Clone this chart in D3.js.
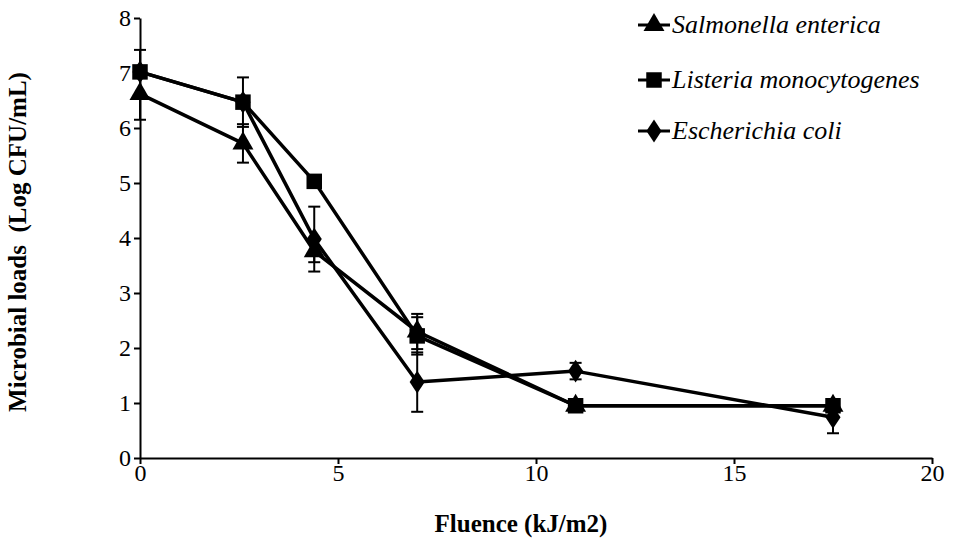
<!DOCTYPE html>
<html>
<head>
<meta charset="utf-8">
<script src="https://cdn.jsdelivr.net/npm/d3@7"></script>
<style>
  body { margin: 0; background: #fff; }
  svg text { font-family: "Liberation Serif", "Times New Roman", serif; fill: #000; }
  .axis path, .axis line { stroke: #000; stroke-width: 2px; }
  .axis text { font-size: 24px; }
</style>
</head>
<body>
<div id="graphic"></div>
<script>
// fluence values (kJ/m2)
var fluence = [0, 2.6, 4.4, 7, 11, 17.5];

var seriesNames = ["Salmonella enterica", "Listeria monocytogenes", "Escherichia coli"];
var seriesShapes = ["triangle", "square", "diamond"];

// log CFU/mL
var salmonella = [6.62, 5.72, 3.76, 2.30, 0.95, 0.95];
var listeria = [7.02, 6.47, 5.03, 2.22, 0.95, 0.95];
var ecoli = [7.02, 6.47, 3.98, 1.38, 1.58, 0.74];

// error bar half-widths
var salmonellaErr = [0.47, 0.35, 0.20, 0.32, 0, 0];
var listeriaErr = [0.40, 0.45, 0, 0.34, 0, 0];
var ecoliErr = [0, 0, 0.59, 0.54, 0.15, 0.29];

var xTicks = [0, 5, 10, 15, 20];
var yTicks = [0, 1, 2, 3, 4, 5, 6, 7, 8];

var width = 953, height = 544;
var margin = { top: 18, right: 21, bottom: 86, left: 140 };

var svg = d3.select('#graphic').append('svg')
  .attr('width', width)
  .attr('height', height);

var x = d3.scaleLinear().domain([0, 20]).range([margin.left, width - margin.right]);
var y = d3.scaleLinear().domain([0, 8]).range([height - margin.bottom, margin.top]);

var xAxis = d3.axisBottom(x).tickValues(xTicks).tickSize(6).tickPadding(0).tickSizeOuter(0);
var yAxis = d3.axisLeft(y).tickValues(yTicks).tickSize(6).tickPadding(3).tickSizeOuter(0);

svg.append('g').attr('class', 'x axis')
  .attr('transform', 'translate(0,' + y(0) + ')')
  .call(xAxis);

svg.append('g').attr('class', 'y axis')
  .attr('transform', 'translate(' + x(0) + ',0)')
  .call(yAxis);

// axis titles
svg.append('text')
  .attr('x', 521)
  .attr('y', 532)
  .attr('text-anchor', 'middle')
  .style('font-size', '25px')
  .style('font-weight', 'bold')
  .text('Fluence (kJ/m2)');

svg.append('text')
  .attr('transform', 'translate(26,' + 242 + ') rotate(-90)')
  .attr('text-anchor', 'middle')
  .style('font-size', '25px')
  .style('font-weight', 'bold')
  .style('white-space', 'pre')
  .text('Microbial loads  (Log CFU/mL)');

var data = [
  { name: seriesNames[0], shape: seriesShapes[0], values: salmonella, err: salmonellaErr },
  { name: seriesNames[1], shape: seriesShapes[1], values: listeria, err: listeriaErr },
  { name: seriesNames[2], shape: seriesShapes[2], values: ecoli, err: ecoliErr }
];

var symbolFor = {
  triangle: d3.symbol().type(d3.symbolTriangle).size(190),
  square: d3.symbol().type(d3.symbolSquare).size(240),
  diamond: d3.symbol().type(d3.symbolDiamond).size(150)
};

var line = d3.line()
  .x(function(d) { return x(d[0]); })
  .y(function(d) { return y(d[1]); });

// error bars
data.forEach(function(s) {
  var g = svg.append('g').attr('class', 'errors');
  fluence.forEach(function(f, i) {
    if (!s.err[i]) return;
    var lo = y(s.values[i] - s.err[i]), hi = y(s.values[i] + s.err[i]);
    g.append('line').attr('x1', x(f)).attr('x2', x(f)).attr('y1', lo).attr('y2', hi)
      .attr('stroke', '#000').attr('stroke-width', 2);
    [lo, hi].forEach(function(yy) {
      g.append('line').attr('x1', x(f) - 6).attr('x2', x(f) + 6).attr('y1', yy).attr('y2', yy)
        .attr('stroke', '#000').attr('stroke-width', 2);
    });
  });
});

// lines
data.forEach(function(s) {
  svg.append('path')
    .datum(d3.zip(fluence, s.values))
    .attr('d', line)
    .attr('fill', 'none')
    .attr('stroke', '#000')
    .attr('stroke-width', 3.5)
    .attr('stroke-linejoin', 'round');
});

// markers
data.forEach(function(s) {
  svg.append('g').selectAll('path')
    .data(d3.zip(fluence, s.values))
    .join('path')
    .attr('d', symbolFor[s.shape])
    .attr('transform', function(d) {
      var sc = s.shape === 'diamond' ? ' scale(1.15,1)' : '';
      return 'translate(' + x(d[0]) + ',' + y(d[1]) + ')' + sc;
    })
    .attr('fill', '#000');
});

// legend
var legend = svg.append('g').attr('class', 'legend');
var legendY = [25, 80, 131];
data.forEach(function(s, i) {
  var ly = legendY[i];
  legend.append('line').attr('x1', 638).attr('x2', 670).attr('y1', ly).attr('y2', ly)
    .attr('stroke', '#000').attr('stroke-width', 3);
  legend.append('path').attr('d', symbolFor[s.shape])
    .attr('transform', 'translate(654,' + ly + ')' + (s.shape === 'diamond' ? ' scale(1.15,1)' : ''))
    .attr('fill', '#000');
  legend.append('text')
    .attr('x', 672).attr('y', ly + 8)
    .style('font-size', '26px')
    .style('font-style', 'italic')
    .text(s.name);
});
</script>
</body>
</html>
